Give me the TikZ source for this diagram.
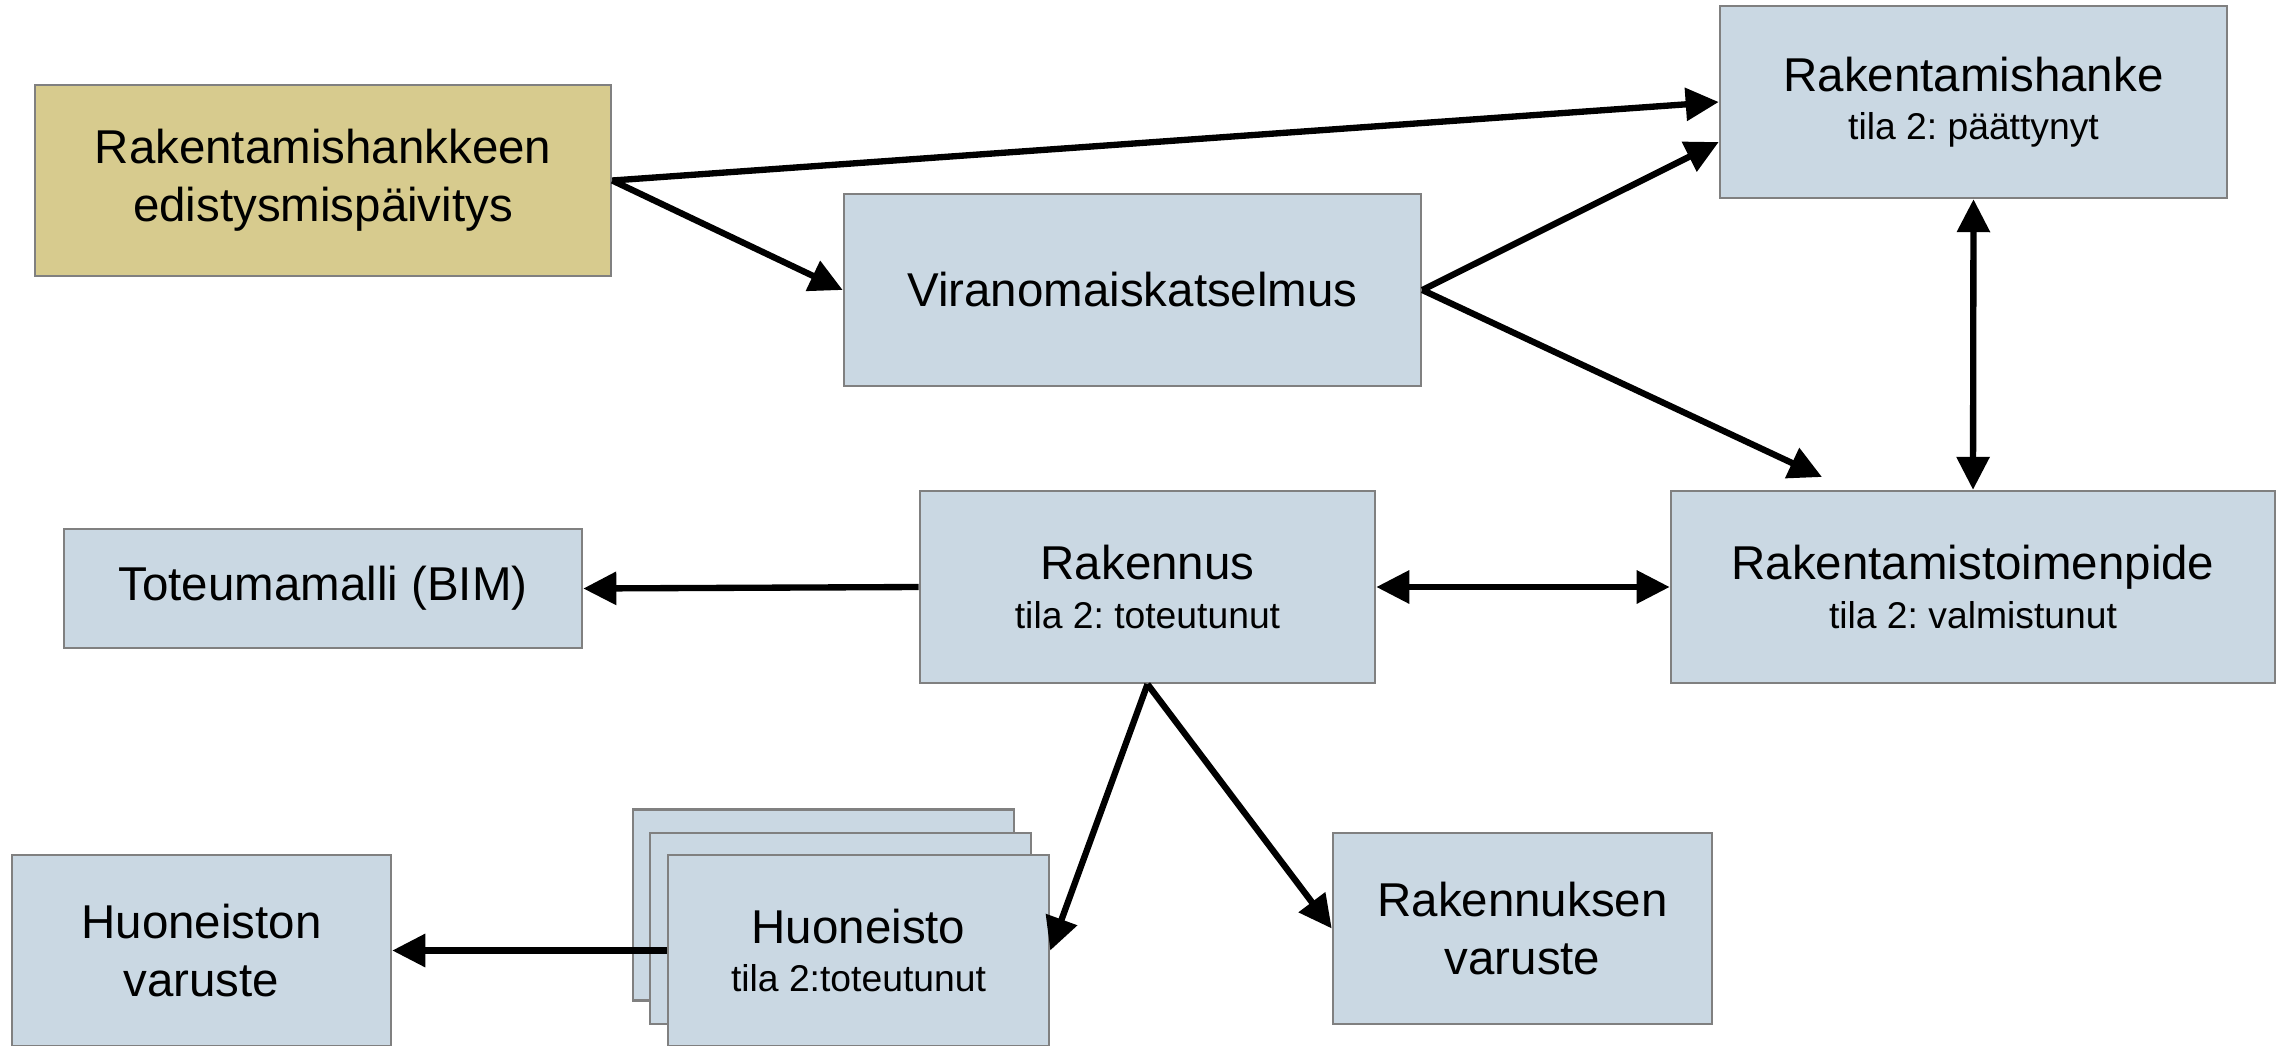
\documentclass[tikz,border=0pt]{standalone}
\usepackage{fontspec}
\setmainfont{Liberation Sans}
\usetikzlibrary{arrows.meta,calc}
\definecolor{boxblue}{HTML}{CAD8E3}
\definecolor{boxkhaki}{HTML}{D7CB8E}
\definecolor{boxline}{HTML}{808080}
\newcommand\subtxt[1]{{\fontsize{10.6}{12}\selectfont #1}}
\frenchspacing
\begin{document}
\begin{tikzpicture}[x=0.01cm,y=-0.01cm,
  box/.style={draw=boxline,line width=0.65pt,fill=boxblue,inner sep=0pt,align=center,
    font=\fontsize{13.5}{16.4}\selectfont},
  khaki/.style={box,fill=boxkhaki},
  tip/.tip={Triangle[length=0.33cm,width=0.32cm]},
  conn/.style={line width=1.8pt,-tip},
  both/.style={line width=1.8pt,tip-tip}]
\fill[white] (0,0) rectangle (2287,1045);
\useasboundingbox (0,0) rectangle (2287,1045);

\node[khaki,minimum width=5.76cm,minimum height=1.91cm] (b1) at (323,180.5) {Rakentamishankkeen\\edistysmispäivitys};
\node[box,minimum width=5.77cm,minimum height=1.92cm] (b2) at (1132.5,290) {Viranomaiskatselmus};
\node[box,minimum width=5.07cm,minimum height=1.92cm] (b3) at (1973.5,102) {Rakentamishanke\\[-2.7pt]\subtxt{tila 2: päättynyt}};
\node[box,minimum width=6.04cm,minimum height=1.92cm] (b4) at (1973,587) {Rakentamistoimenpide\\[-2.7pt]\subtxt{tila 2: valmistunut}};
\node[box,minimum width=4.55cm,minimum height=1.92cm] (b5) at (1147.5,587) {Rakennus\\[-2.7pt]\subtxt{tila 2: toteutunut}};
\node[box,minimum width=5.18cm,minimum height=1.19cm] (b6) at (323,588.5) {Toteumamalli (BIM)};

\node[box,minimum width=3.81cm,minimum height=1.91cm] (hb) at (823.5,905) {};
\node[box,minimum width=3.81cm,minimum height=1.91cm] (hm) at (840.5,928.5) {};
\node[box,minimum width=3.81cm,minimum height=1.91cm] (hf) at (858.5,950.5) {Huoneisto\\[-2.7pt]\subtxt{tila 2:toteutunut}};

\node[box,minimum width=3.79cm,minimum height=1.91cm] (hv) at (201.5,950.5) {Huoneiston\\varuste};
\node[box,minimum width=3.79cm,minimum height=1.91cm] (rv) at (1522.5,928.5) {Rakennuksen\\varuste};

\coordinate (t4) at (1822,477);

\draw[conn] (b1.east) -- (b3.west);
\draw[conn] (b1.east) -- (b2.west);
\draw[conn] (b2.east) -- ($(b3.north west)!0.706!(b3.south west)$);
\draw[conn] (b2.east) -- (t4);
\draw[both] (b3.south) -- (b4.north);
\draw[both] (b5.east) -- (b4.west);
\draw[conn] (b5.west) -- (b6.east);
\draw[conn] (b5.south) -- (hf.east);
\draw[conn] (b5.south) -- (rv.west);
\draw[conn] (hf.west) -- (hv.east);
\end{tikzpicture}
\end{document}
